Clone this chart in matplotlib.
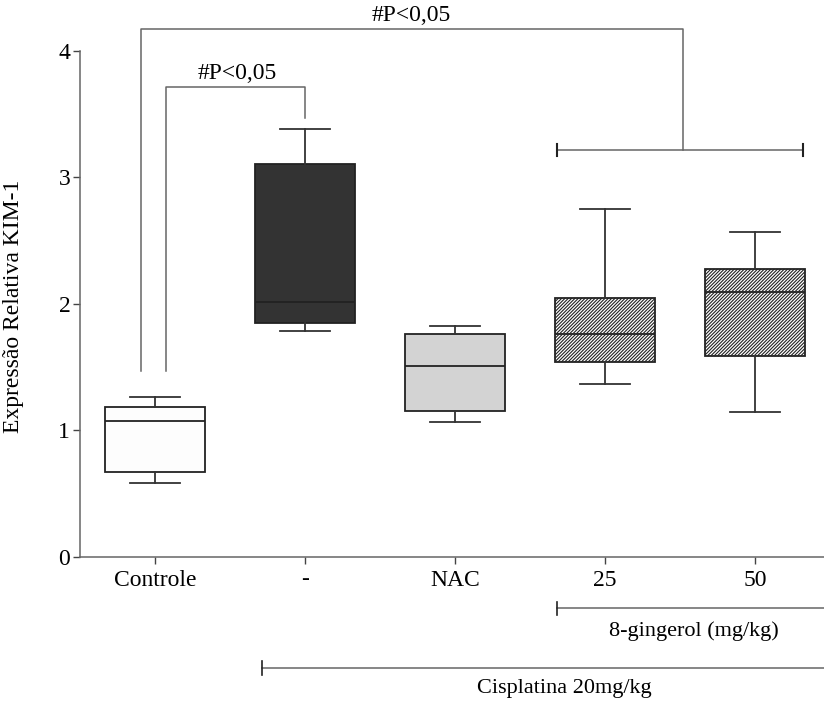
import matplotlib
matplotlib.use("Agg")
import matplotlib.pyplot as plt
from matplotlib.transforms import blended_transform_factory

plt.rcParams['font.family'] = ['Liberation Serif', 'DejaVu Serif']
plt.rcParams['hatch.linewidth'] = 0.8
plt.rcParams['hatch.color'] = '#222222'

# ---- data ----
groups = ['Controle', '-', 'NAC', '25', '50']
whislo = [0.586, 1.787, 1.07, 1.37, 1.149]
q1 = [0.671, 1.85, 1.157, 1.54, 1.587]
med = [1.075, 2.016, 1.507, 1.765, 2.092]
q3 = [1.183, 3.107, 1.763, 2.045, 2.277]
whishi = [1.265, 3.383, 1.826, 2.751, 2.572]
facecolors = ['#fdfdfd', '#333333', '#d3d3d3', 'white', 'white']
hatches = [None, None, None, '//////////', '//////////']
yticks = [0, 1, 2, 3, 4]
sig_label = '#P<0,05'

fig = plt.figure(figsize=(8.24, 7.05), dpi=100)
ax = fig.add_axes([80/824, 148/705, 744/824, 557/705])

stats = []
for i, g in enumerate(groups):
    stats.append(dict(label=g, whislo=whislo[i], q1=q1[i], med=med[i],
                      q3=q3[i], whishi=whishi[i], fliers=[]))
pos = list(range(len(groups)))
bp = ax.bxp(stats, positions=pos, widths=0.667, patch_artist=True,
            showfliers=False,
            boxprops=dict(edgecolor='#222222', linewidth=1.3),
            medianprops=dict(color='#222222', linewidth=1.3),
            whiskerprops=dict(color='#333333', linewidth=1.3),
            capprops=dict(color='#333333', linewidth=1.3),
            capwidths=0.333)
for patch, fc, h in zip(bp['boxes'], facecolors, hatches):
    patch.set_facecolor(fc)
    if h:
        patch.set_hatch(h)

ax.set_xlim(-0.5, 4.46)
ax.set_ylim(0, 4.403)
ax.set_yticks(yticks)
ax.set_yticklabels([str(t) for t in yticks])
ax.set_xticks(pos)
ax.set_xticklabels(groups)
ax.tick_params(axis='both', labelsize=17, direction='out', length=5,
               width=1, color='#444444')
ax.tick_params(axis='x', pad=4)
ax.tick_params(axis='y', pad=2)
for s in ['top', 'right']:
    ax.spines[s].set_visible(False)
ax.spines['left'].set_bounds(0, 4)
for s in ['left', 'bottom']:
    ax.spines[s].set_color('#666666')
    ax.spines[s].set_linewidth(1.1)
ax.set_ylabel('Expressão Relativa KIM-1', fontsize=17)
ax.yaxis.set_label_coords(-0.075, 0.45)

lc = '#666666'
lkw = dict(color=lc, linewidth=1.1, clip_on=False)
# big bracket
ax.plot([-0.095, -0.095, 3.52, 3.52], [1.473, 4.174, 4.174, 3.217], **lkw)
ax.plot([2.68, 4.32], [3.217, 3.217], **lkw)
for xe in [2.68, 4.32]:
    ax.plot([xe, xe], [3.17, 3.265], color='#222222', linewidth=1.5, clip_on=False)
ax.text(1.71, 4.20, sig_label, ha='center', va='bottom', fontsize=17)
# small bracket
ax.plot([0.071, 0.071, 1.0, 1.0], [1.473, 3.713, 3.713, 3.468], **lkw)
ax.text(0.55, 3.74, sig_label, ha='center', va='bottom', fontsize=17)

# group annotation lines below the axis
tr = blended_transform_factory(ax.transData, ax.transAxes)
ax.plot([2.68, 4.46], [-0.0916, -0.0916], transform=tr, **lkw)
ax.plot([2.68, 2.68], [-0.080, -0.104], transform=tr, color='#222222',
        linewidth=1.2, clip_on=False)
ax.text(3.59, -0.133, '8-gingerol (mg/kg)', transform=tr, ha='center',
        va='center', fontsize=16)
ax.plot([0.713, 4.46], [-0.199, -0.199], transform=tr, **lkw)
ax.plot([0.713, 0.713], [-0.187, -0.211], transform=tr, color='#222222',
        linewidth=1.2, clip_on=False)
ax.text(2.73, -0.236, 'Cisplatina 20mg/kg', transform=tr, ha='center',
        va='center', fontsize=16)

fig.savefig('out.png', dpi=100)
